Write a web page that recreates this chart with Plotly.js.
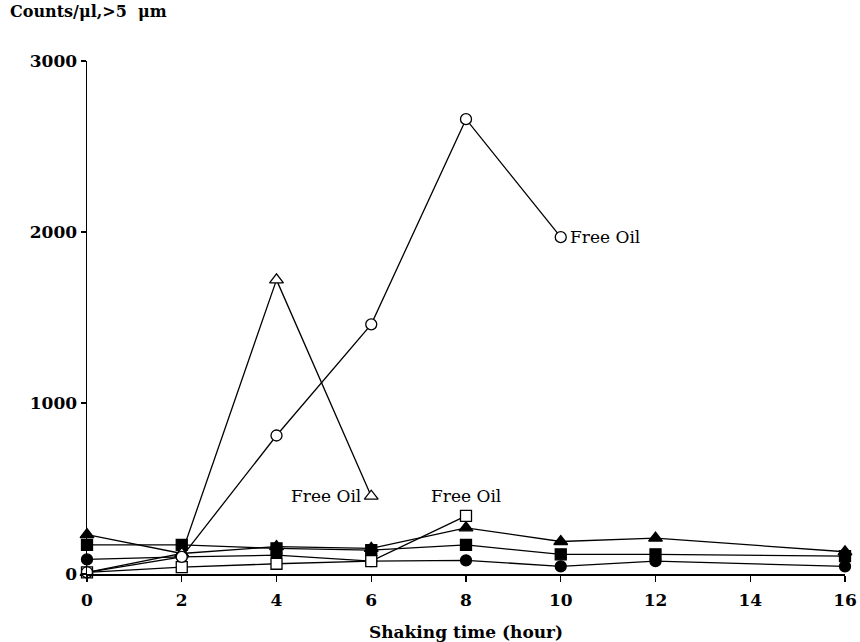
<!DOCTYPE html>
<html>
<head>
<meta charset="utf-8">
<script src="https://cdn.plot.ly/plotly-3.0.1.min.js"></script>
<style>html,body{margin:0;padding:0;background:#fff;}#chart{width:860px;height:642px;}</style>
</head>
<body>
<div id="chart"></div>
<script>
// Data
const hours = [0, 2, 4, 6, 8, 10, 12, 16];
const filledTriangle = [230, 120, 160, 150, 270, 190, 210, 130];
const filledSquare = [170, 170, 150, 140, 170, 115, 115, 105];
const filledCircle = [85, 100, 110, 75, 80, 45, 75, 45];

const openSquareHours = [0, 2, 4, 6, 8];
const openSquare = [10, 40, 60, 75, 340];

const openTriangleHours = [0, 2, 4, 6];
const openTriangle = [10, 120, 1720, 455];

const openCircleHours = [0, 2, 4, 6, 8, 10];
const openCircle = [10, 100, 810, 1460, 2660, 1970];

const xTicks = [0, 2, 4, 6, 8, 10, 12, 14, 16];
const yTicks = [0, 1000, 2000, 3000];

const LINE = {color: '#000', width: 1.3};
function tr(x, y, symbol, fill, size) {
  return {
    x: x, y: y, type: 'scatter', mode: 'lines+markers', cliponaxis: false,
    line: LINE, showlegend: false, hoverinfo: 'skip',
    marker: {symbol: symbol, size: size || 11, color: fill, line: {color: '#000', width: 1.3}}
  };
}

const traces = [
  tr(hours, filledCircle, 'circle', '#000'),
  tr(hours, filledSquare, 'square', '#000'),
  tr(hours, filledTriangle, 'triangle-up', '#000', 12),
  tr(openSquareHours, openSquare, 'square', '#fff'),
  tr(openTriangleHours, openTriangle, 'triangle-up', '#fff', 12),
  tr(openCircleHours, openCircle, 'circle', '#fff')
];

const FAM = 'DejaVu Serif';
const serifB = {family: FAM, size: 17, color: '#000', weight: 'bold'};
const serif = {family: FAM, size: 17, color: '#000'};

const layout = {
  width: 860, height: 642,
  margin: {l: 87, r: 15, t: 61, b: 68},
  paper_bgcolor: '#fff', plot_bgcolor: '#fff',
  showlegend: false,
  font: {family: FAM},
  xaxis: {
    range: [0, 16], tickvals: xTicks, ticktext: xTicks.map(String),
    showgrid: false, zeroline: false, showline: true, linecolor: '#000', linewidth: 1.5,
    ticks: 'outside', ticklen: 6, tickwidth: 1.2, tickcolor: '#000',
    ticklabelstandoff: 4,
    tickfont: serifB,
    title: {text: 'Shaking time (hour)', font: serifB, standoff: 18}
  },
  xaxis2: {
    range: [0, 16], overlaying: 'x', anchor: 'y', side: 'bottom', tickvals: xTicks,
    showticklabels: false, showgrid: false, zeroline: false, showline: false,
    ticks: 'inside', ticklen: 4, tickwidth: 1.2, tickcolor: '#000'
  },
  yaxis: {
    range: [0, 3000], tickvals: yTicks, ticktext: yTicks.map(String),
    showgrid: false, zeroline: false, showline: true, linecolor: '#000', linewidth: 1.5,
    ticks: 'outside', ticklen: 5, tickwidth: 1.2, tickcolor: '#000',
    tickfont: serifB
  },
  yaxis2: {
    range: [0, 3000], overlaying: 'y', anchor: 'x', side: 'left', tickvals: yTicks,
    showticklabels: false, showgrid: false, zeroline: false, showline: false,
    ticks: 'inside', ticklen: 5, tickwidth: 1.2, tickcolor: '#000'
  },
  annotations: [
    {xref: 'paper', yref: 'paper', x: -0.104, y: 1.096, xanchor: 'left', yanchor: 'middle',
     text: 'Counts/μl,>5  μm', showarrow: false, font: {family: FAM, size: 16, weight: 'bold', color: '#000'}},
    {x: openCircleHours[5], y: openCircle[5], xanchor: 'left', yanchor: 'middle', xshift: 7,
     text: 'Free Oil', showarrow: false, font: serif},
    {x: openTriangleHours[3], y: openTriangle[3], xanchor: 'right', yanchor: 'middle', xshift: -8,
     text: 'Free Oil', showarrow: false, font: serif},
    {x: openSquareHours[4], y: openSquare[4], xanchor: 'center', yanchor: 'bottom', yshift: 8,
     text: 'Free Oil', showarrow: false, font: serif}
  ]
};

Plotly.newPlot('chart', traces, layout, {staticPlot: true, displayModeBar: false});
</script>
</body>
</html>
